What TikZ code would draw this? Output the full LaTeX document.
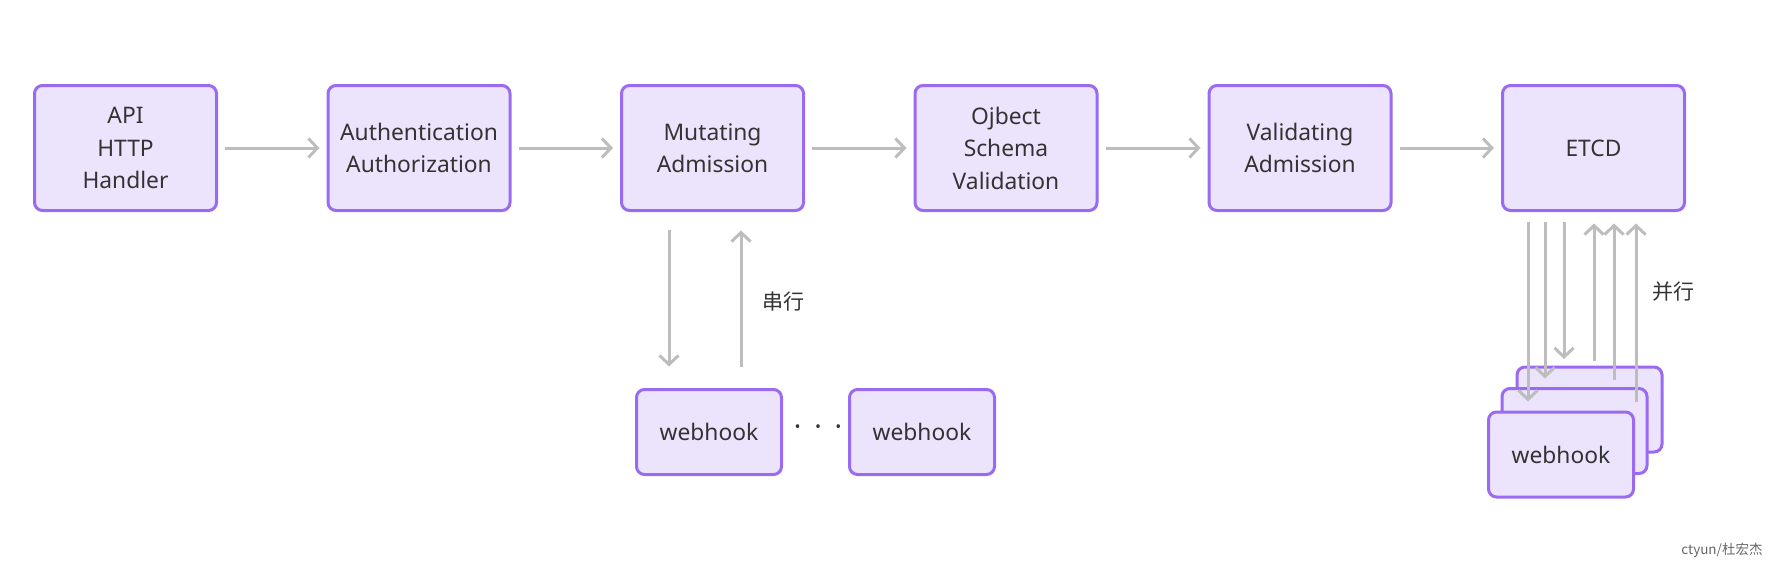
\documentclass[tikz,border=0pt]{standalone}
\usepackage{fontspec}
\setmainfont{Noto Sans}
\newfontfamily\cjk{Noto Sans CJK SC}
\usetikzlibrary{arrows.meta}
\definecolor{boxfill}{HTML}{ECE4FD}
\definecolor{boxline}{HTML}{9A6AF0}
\definecolor{flowgray}{HTML}{BDBDBD}
\definecolor{textdark}{HTML}{333333}

\begin{document}
\begin{tikzpicture}[x=1pt,y=-1pt,
  stage/.style={shape=rectangle, rounded corners=8pt, draw=boxline, fill=boxfill,
    line width=3pt, minimum width=182pt, minimum height=125pt, align=center,
    text=textdark, font=\fontsize{22.8}{32.5}\selectfont},
  hook/.style={stage, minimum width=145pt, minimum height=85pt},
  flow/.style={draw=flowgray, line width=3pt,
    -{Straight Barb[length=9pt,width=19pt]}, shorten <=7pt, shorten >=7pt},
  note/.style={text=textdark, font=\cjk\fontsize{21}{25}\selectfont}]
\useasboundingbox (0,0) rectangle (1768,560);

% main pipeline
\path (125.5,148) node (api) [stage] {API\\HTTP\\Handler};
\path (419,148) node (auth) [stage] {Authentication\\Authorization};
\path (712.5,148) node (mut) [stage] {Mutating\\Admission};
\path (1006,148) node (obj) [stage] {Ojbect\\Schema\\Validation};
\path (1300,148) node (val) [stage] {Validating\\Admission};
\path (1593.5,148) node (etcd) [stage] {ETCD};

\draw [flow] (api) to (auth);
\draw [flow] (auth) to (mut);
\draw [flow] (mut) to (obj);
\draw [flow] (obj) to (val);
\draw [flow] (val) to (etcd);

% serial webhooks
\path (709,432) node (wh1) [hook] {webhook};
\path (922,432) node (wh2) [hook] {webhook};
\path (818,431) node (gap) [text=textdark, font=\fontsize{28}{32}\selectfont] {·\hspace{13pt}·\hspace{13pt}·};

\draw [flow, shorten <=17.5pt, shorten >=21.5pt] ([xshift=-43.5pt]mut.south) to ([xshift=-43.5pt]mut.south |- wh1.north);
\draw [flow, shorten <=21.5pt, shorten >=18.5pt] ([xshift=28.5pt]mut.south |- wh1.north) to ([xshift=28.5pt]mut.south);
\path (783,302) node (serial) [note] {串行};

% parallel webhooks
\path (1589.5,409.5) node (whc) [hook] {};
\path (1574.5,431) node (whb) [hook] {};
\path (1561,454.5) node (wha) [hook] {webhook};

\draw [flow, shorten <=9.5pt, shorten >=9pt] ([xshift=-65.5pt]etcd.south) to ([xshift=-65.5pt]etcd.south |- wha.north);
\draw [flow, shorten <=9.5pt, shorten >=8.5pt] ([xshift=-48.5pt]etcd.south) to ([xshift=-48.5pt]etcd.south |- whb.north);
\draw [flow, shorten <=9.5pt, shorten >=6.5pt] ([xshift=-29.5pt]etcd.south) to ([xshift=-29.5pt]etcd.south |- whc.north);
\draw [flow, shorten <=4.5pt, shorten >=11.5pt] ([xshift=0.5pt]etcd.south |- whc.north) to ([xshift=0.5pt]etcd.south);
\draw [flow, shorten <=7.5pt, shorten >=11.5pt] ([xshift=20.5pt]etcd.south |- whb.north) to ([xshift=20.5pt]etcd.south);
\draw [flow, shorten <=9pt, shorten >=11.5pt] ([xshift=42.5pt]etcd.south |- wha.north) to ([xshift=42.5pt]etcd.south);
\path (1673,292) node (parallel) [note] {并行};

\path (1766,550) node (mark) [anchor=east, text=black!60, font=\cjk\fontsize{13.5}{15}\selectfont] {ctyun/杜宏杰};

\end{tikzpicture}
\end{document}
